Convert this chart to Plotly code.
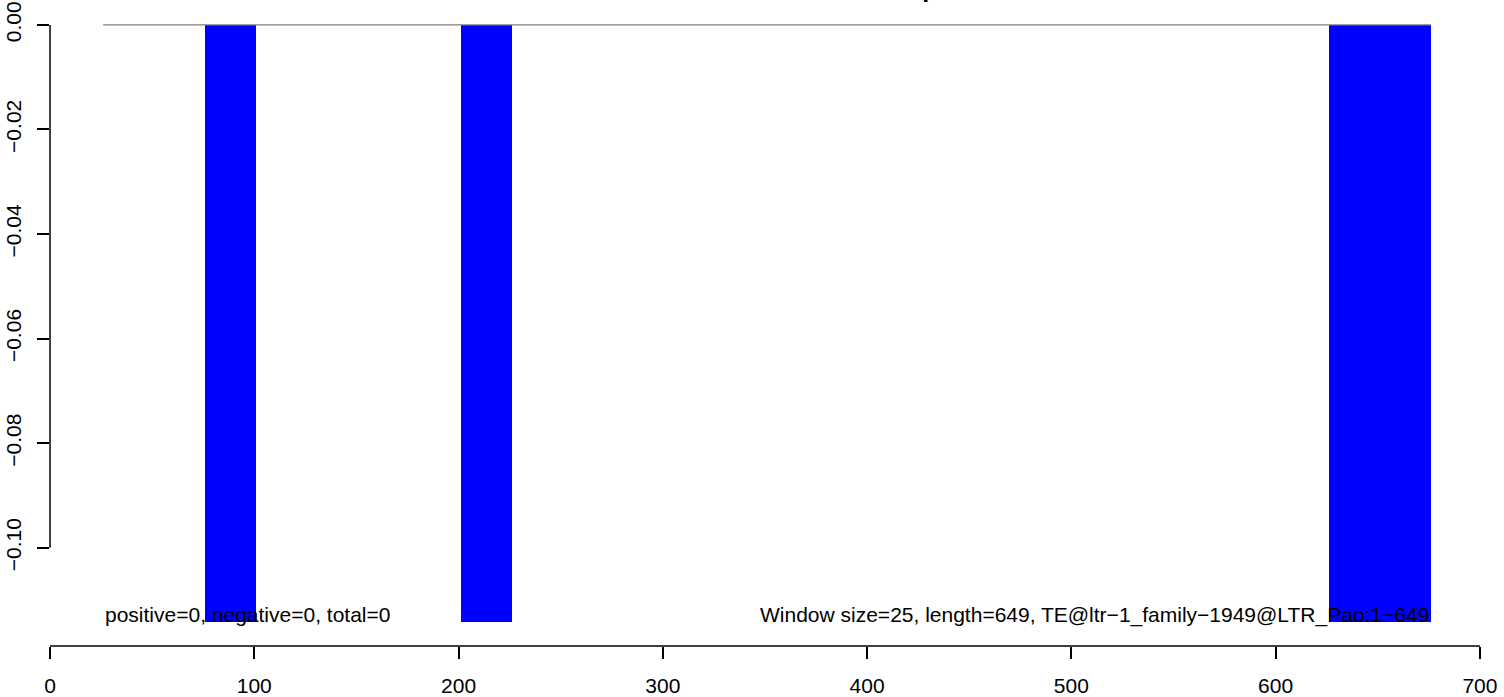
import plotly.graph_objects as go

# ---- data ----
x_ticks = [0, 100, 200, 300, 400, 500, 600, 700]
y_ticks = [0.0, -0.02, -0.04, -0.06, -0.08, -0.10]
y_tick_labels = ["0.00", "−0.02", "−0.04", "−0.06", "−0.08", "−0.10"]
bar_start = [76, 201, 626]
bar_end = [101, 226, 676]
bar_value = [-0.1142, -0.1142, -0.1142]
baseline_x = [26, 676]
baseline_y = [0, 0]
title_text = "Leaf21nt_siRNAs_TEoverlap"
left_note = "positive=0, negative=0, total=0"
right_note = "Window size=25, length=649, TE@ltr−1_family−1949@LTR_Pao:1−649"
x_range = [0, 702]
y_range = [-0.11877, 0.004568]

FONT = "Liberation Sans, Arial, Helvetica, sans-serif"
FS = 21

fig = go.Figure()
fig.add_trace(go.Scatter(x=baseline_x, y=baseline_y, mode="lines",
                         line=dict(color="#7f7f7f", width=1.2), hoverinfo="skip"))
fig.add_trace(go.Bar(x=[(s + e) / 2 for s, e in zip(bar_start, bar_end)],
                     y=bar_value,
                     width=[e - s for s, e in zip(bar_start, bar_end)],
                     marker=dict(color="#0000FF", line=dict(width=0))))

# axis lines like R's axis()
fig.add_shape(type="line", xref="x", yref="paper", x0=min(x_ticks), x1=max(x_ticks),
              y0=0, y1=0, line=dict(color="black", width=1.5))
fig.add_shape(type="line", xref="paper", yref="y", x0=0, x1=0,
              y0=min(y_ticks), y1=max(y_ticks), line=dict(color="black", width=1.5))

fig.add_annotation(x=baseline_x[0], y=-0.1128, xref="x", yref="y", text=left_note,
                   showarrow=False, xanchor="left", yanchor="middle",
                   font=dict(family=FONT, size=FS, color="black"))
fig.add_annotation(x=baseline_x[1], y=-0.1128, xref="x", yref="y", text=right_note,
                   showarrow=False, xanchor="right", yanchor="middle",
                   font=dict(family=FONT, size=FS, color="black"))
fig.add_annotation(x=sum(x_range) / 2, y=1, xref="x", yref="paper", text="<b>" + title_text + "</b>",
                   showarrow=False, xanchor="center", yanchor="bottom", yshift=-3.5,
                   font=dict(family=FONT, size=25, color="black"))

fig.update_layout(
    width=1504, height=697,
    margin=dict(l=50, r=20, t=1, b=51, autoexpand=False),
    plot_bgcolor="white", paper_bgcolor="white",
    showlegend=False,
    bargap=0,
    xaxis=dict(range=x_range, tickvals=x_ticks, ticktext=[str(v) for v in x_ticks],
               automargin=False,
               showgrid=False, zeroline=False, showline=False,
               ticks="outside", ticklen=12, tickwidth=1.5, tickcolor="black",
               ticklabelstandoff=9,
               tickfont=dict(family=FONT, size=FS, color="black")),
    yaxis=dict(range=y_range, tickvals=y_ticks, ticktext=y_tick_labels,
               automargin=False,
               showgrid=False, zeroline=False, showline=False,
               ticks="outside", ticklen=12, tickwidth=1.5, tickcolor="black",
               tickangle=-90, ticklabelstandoff=8,
               tickfont=dict(family=FONT, size=FS, color="black")),
)

fig.write_html("out.html", config={"displayModeBar": False},
               post_script="document.body.style.margin='0';")
